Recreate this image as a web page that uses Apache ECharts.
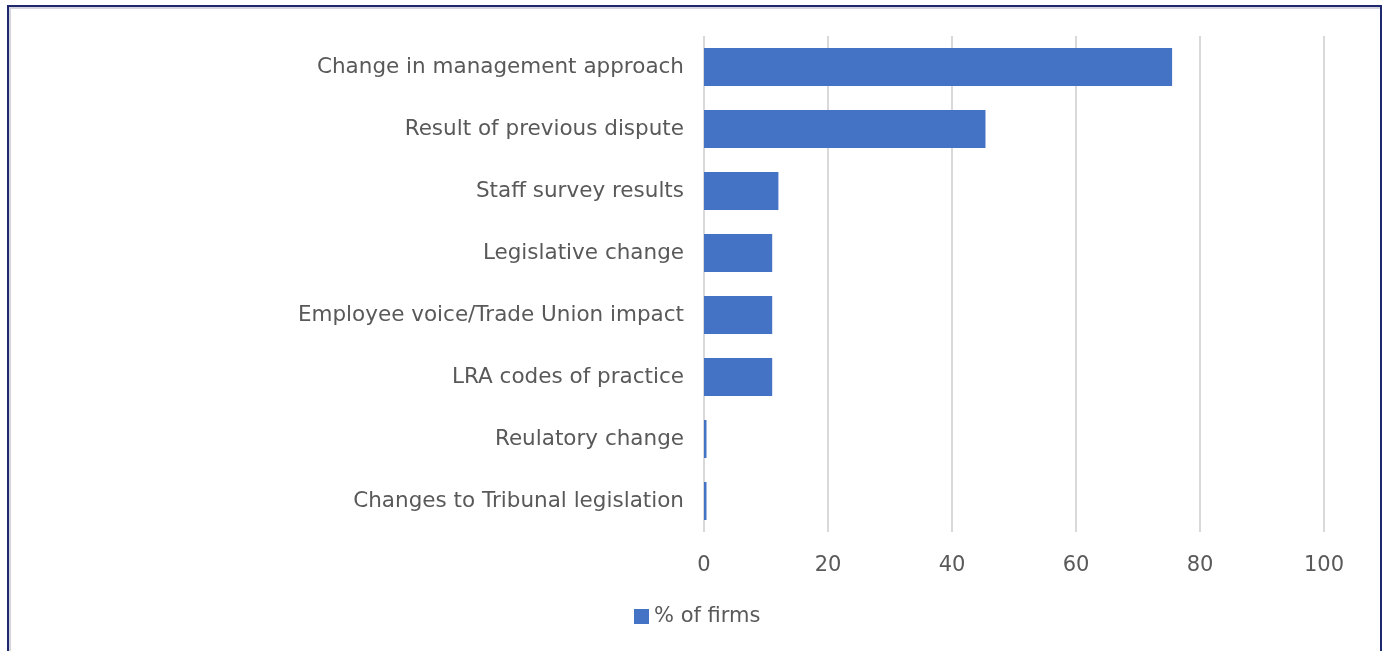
<!DOCTYPE html>
<html>
<head>
<meta charset="utf-8">
<script src="https://cdn.jsdelivr.net/npm/echarts@6/dist/echarts.min.js"></script>
<style>
    html, body { margin: 0; padding: 0; background: #ffffff; }
    #frame {
        position: absolute;
        left: 7px;
        top: 5px;
        width: 1371px;
        height: 660px;
        border: 2px solid #1f286e;
        box-shadow: inset 2px 2px 0 #d4d4dc;
    }
    #main { position: absolute; left: 0; top: 0; width: 1384px; height: 651px; }
</style>
</head>
<body>
<div id="frame"></div>
<div id="main"></div>
<script>
var categories = [
    'Change in management approach',
    'Result of previous dispute',
    'Staff survey results',
    'Legislative change',
    'Employee voice/Trade Union impact',
    'LRA codes of practice',
    'Reulatory change',
    'Changes to Tribunal legislation'
];
var firms = [75.5, 45.4, 12, 11, 11, 11, 0.4, 0.4];
var xTicks = [0, 20, 40, 60, 80, 100];

var labelFont = 'DejaVu Sans';
var chart = echarts.init(document.getElementById('main'));

var option = {
    animation: false,
    grid: {
        left: 704,
        right: 60,
        top: 36,
        bottom: 119
    },
    legend: {
        bottom: 19,
        left: 629,
        itemWidth: 15,
        itemHeight: 15,
        icon: 'rect',
        itemGap: 6,
        textStyle: {
            color: '#595959',
            fontSize: 21,
            fontFamily: labelFont
        },
        data: ['% of firms']
    },
    xAxis: {
        type: 'value',
        min: xTicks[0],
        max: xTicks[xTicks.length - 1],
        interval: 20,
        axisLine: { show: false },
        axisTick: { show: false },
        axisLabel: {
            color: '#595959',
            fontSize: 21,
            fontFamily: labelFont,
            margin: 23
        },
        splitLine: {
            show: true,
            lineStyle: { color: '#d9d9d9', width: 2 }
        }
    },
    yAxis: {
        type: 'category',
        inverse: true,
        data: categories,
        axisLine: { show: false },
        axisTick: { show: false },
        axisLabel: {
            color: '#595959',
            fontSize: 21.5,
            fontFamily: labelFont,
            margin: 20
        }
    },
    series: [{
        name: '% of firms',
        type: 'bar',
        data: firms,
        barWidth: 38,
        itemStyle: {
            color: '#4472c4'
        }
    }]
};

chart.setOption(option);
</script>
</body>
</html>
